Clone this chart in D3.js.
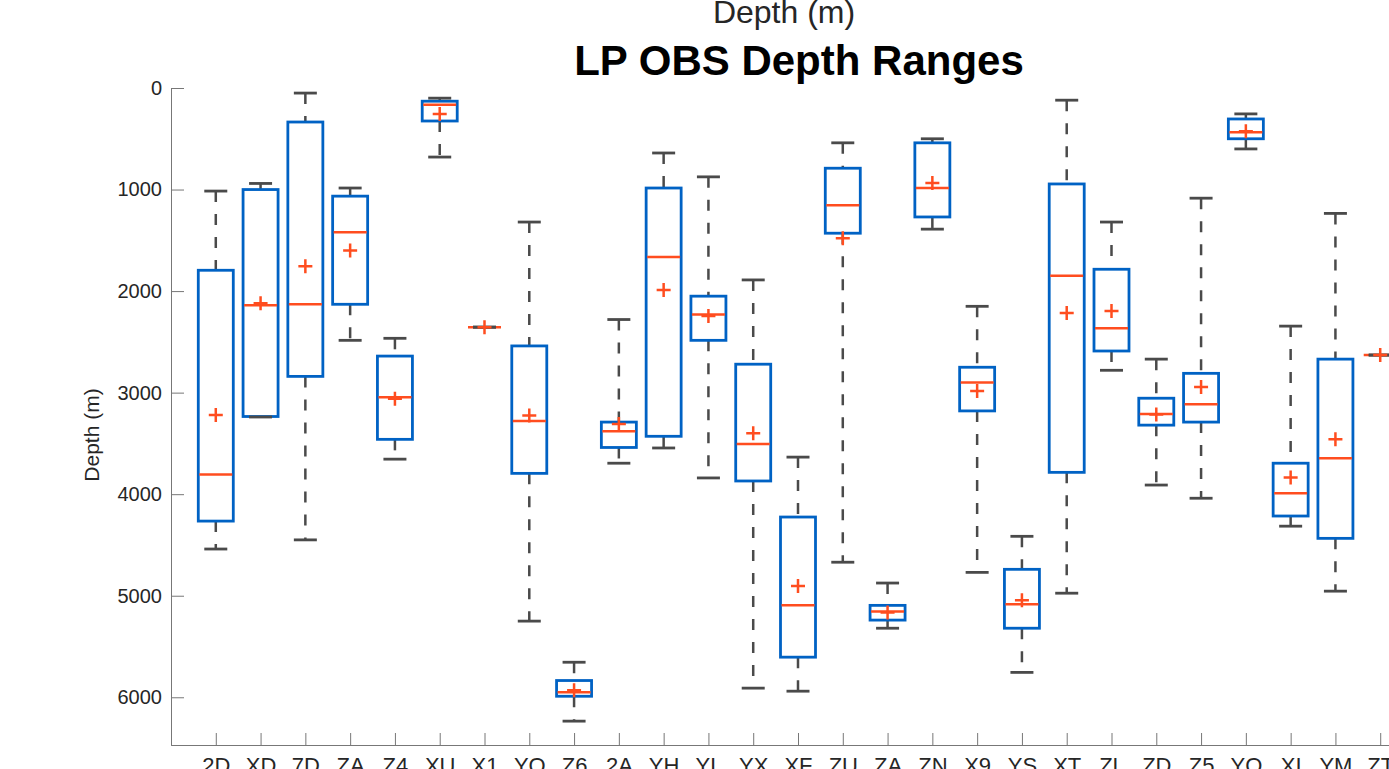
<!DOCTYPE html>
<html>
<head>
<meta charset="utf-8">
<script src="https://cdn.jsdelivr.net/npm/d3@7"></script>
<style>
  body { margin: 0; background: #fff; overflow: hidden; }
  svg { display: block; font-family: "Liberation Sans", Arial, sans-serif; }
</style>
</head>
<body>
<svg id="chart" width="1389" height="769"></svg>
<script>
// station codes along the bottom (two repeats: ZA and YO)
const stations = ["2D","XD","7D","ZA","Z4","XU","X1","YO","Z6","2A","YH","YL","YX","XF",
  "ZU","ZA","ZN","X9","YS","XT","ZL","ZD","Z5","YO","XI","YM","ZT"];

// depth stats in metres
const whiskerTop = [1015, 940, 50, 985, 2465, 100, 2355, 1320, 5655, 2280, 640, 875, 1890, 3635,
  540, 4875, 500, 2150, 4415, 120, 1320, 2670, 1085, 255, 2345, 1235, 2630];
const q1 = [1795, 1000, 335, 1065, 2640, 130, 2355, 2540, 5835, 3290, 985, 2050, 2720, 4225,
  790, 5095, 540, 2750, 4740, 945, 1785, 3055, 2810, 305, 3695, 2670, 2630];
const medians = [3805, 2140, 2130, 1420, 3045, 165, 2355, 3280, 5950, 3380, 1665, 2230, 3505, 5095,
  1155, 5155, 985, 2900, 5085, 1850, 2365, 3210, 3115, 435, 3990, 3645, 2630];
const q3 = [4265, 3235, 2840, 2130, 3460, 325, 2355, 3795, 5990, 3540, 3430, 2485, 3870, 5605,
  1430, 5240, 1270, 3180, 5320, 3785, 2590, 3320, 3290, 500, 4215, 4435, 2630];
const whiskerBottom = [4540, 3240, 4450, 2485, 3655, 680, 2355, 5250, 6235, 3695, 3545, 3840, 5910, 5940,
  4670, 5320, 1390, 4770, 5755, 4975, 2780, 3910, 4040, 600, 4315, 4955, 2630];
const means = [3220, 2120, 1755, 1600, 3060, 255, 2355, 3225, 5930, 3310, 1990, 2245, 3400, 4905,
  1480, 5165, 935, 2985, 5045, 2215, 2195, 3215, 2945, 425, 3835, 3460, 2630];

const yTicks = [0, 1000, 2000, 3000, 4000, 5000, 6000];

const data = stations.map((s, i) => ({
  name: s, idx: i + 1,
  wt: whiskerTop[i], q1: q1[i], med: medians[i], q3: q3[i], wb: whiskerBottom[i], mean: means[i]
}));

const svg = d3.select("#chart");
const plotLeft = 171, plotRight = 1425, plotTop = 88, plotBottom = 745;

// x runs 0..28 so the last station sits near the right edge (axis runs past the window)
const xscale = d3.scaleLinear().domain([0, 28]).range([plotLeft, plotRight]);
// depth goes downward
const yscale = d3.scaleLinear().domain([0, 6470]).range([plotTop, plotBottom]);

const blue = "#0062c4", red = "#ff4d1f", grey = "#4a4a4a", axisCol = "#777";
const boxW = 35, capW = 23;

// axes (ticks point inward, matlab style)
const yAxis = svg.append("g")
  .attr("transform", `translate(${plotLeft},0)`)
  .call(d3.axisRight(yscale).tickValues(yTicks).tickSize(13).tickFormat(d3.format("d")));
yAxis.select(".domain").attr("stroke", axisCol);
yAxis.selectAll(".tick line").attr("stroke", axisCol);
yAxis.selectAll(".tick text")
  .attr("x", -9).attr("text-anchor", "end")
  .attr("fill", "#262626").style("font-size", "20px");

const xAxis = svg.append("g")
  .attr("transform", `translate(0,${plotBottom})`)
  .call(d3.axisTop(xscale).tickValues(d3.range(1, 28)).tickSize(12).tickFormat((d) => stations[d - 1]));
xAxis.select(".domain").attr("stroke", axisCol);
xAxis.selectAll(".tick line").attr("stroke", axisCol);
xAxis.selectAll(".tick text")
  .attr("y", 28).attr("dy", null)
  .attr("fill", "#262626").style("font-size", "22px");

const g = svg.append("g");

const boxes = g.selectAll("g.box")
  .data(data)
  .join("g")
  .attr("class", "box")
  .attr("transform", (d) => `translate(${xscale(d.idx)},0)`);

// dashed whiskers
boxes.append("line")
  .attr("y1", (d) => yscale(d.wt)).attr("y2", (d) => yscale(d.q1))
  .attr("stroke", grey).attr("stroke-width", 2.5).attr("stroke-dasharray", "11,12");
boxes.append("line")
  .attr("y1", (d) => yscale(d.q3)).attr("y2", (d) => yscale(d.wb))
  .attr("stroke", grey).attr("stroke-width", 2.5).attr("stroke-dasharray", "11,12");

// box
boxes.append("rect")
  .attr("x", -boxW / 2).attr("width", boxW)
  .attr("y", (d) => yscale(d.q1))
  .attr("height", (d) => yscale(d.q3) - yscale(d.q1))
  .attr("fill", "none").attr("stroke", blue).attr("stroke-width", 2.8);

// median
boxes.append("line")
  .attr("x1", -boxW / 2 + 1).attr("x2", boxW / 2 - 1)
  .attr("y1", (d) => yscale(d.med)).attr("y2", (d) => yscale(d.med))
  .attr("stroke", red).attr("stroke-width", 2.5);

// caps
[(d) => yscale(d.wt), (d) => yscale(d.wb)].forEach((fy) => {
  boxes.append("line")
    .attr("x1", -capW / 2).attr("x2", capW / 2)
    .attr("y1", fy).attr("y2", fy)
    .attr("stroke", grey).attr("stroke-width", 2.8);
});

// mean marker
boxes.append("path")
  .attr("d", (d) => { const y = yscale(d.mean); return `M-7,${y}H7M0,${y - 7}V${y + 7}`; })
  .attr("stroke", red).attr("stroke-width", 2.5).attr("fill", "none");

// labels
svg.append("text")
  .attr("x", 799).attr("y", 75)
  .attr("text-anchor", "middle")
  .style("font-size", "42px").style("font-weight", "bold")
  .attr("fill", "#000")
  .text("LP OBS Depth Ranges");

svg.append("text")
  .attr("x", 784).attr("y", 23)
  .attr("text-anchor", "middle")
  .style("font-size", "32px")
  .attr("fill", "#262626")
  .text("Depth (m)");

svg.append("text")
  .attr("transform", "translate(99,435) rotate(-90)")
  .attr("text-anchor", "middle")
  .style("font-size", "21px")
  .attr("fill", "#262626")
  .text("Depth (m)");
</script>
</body>
</html>
